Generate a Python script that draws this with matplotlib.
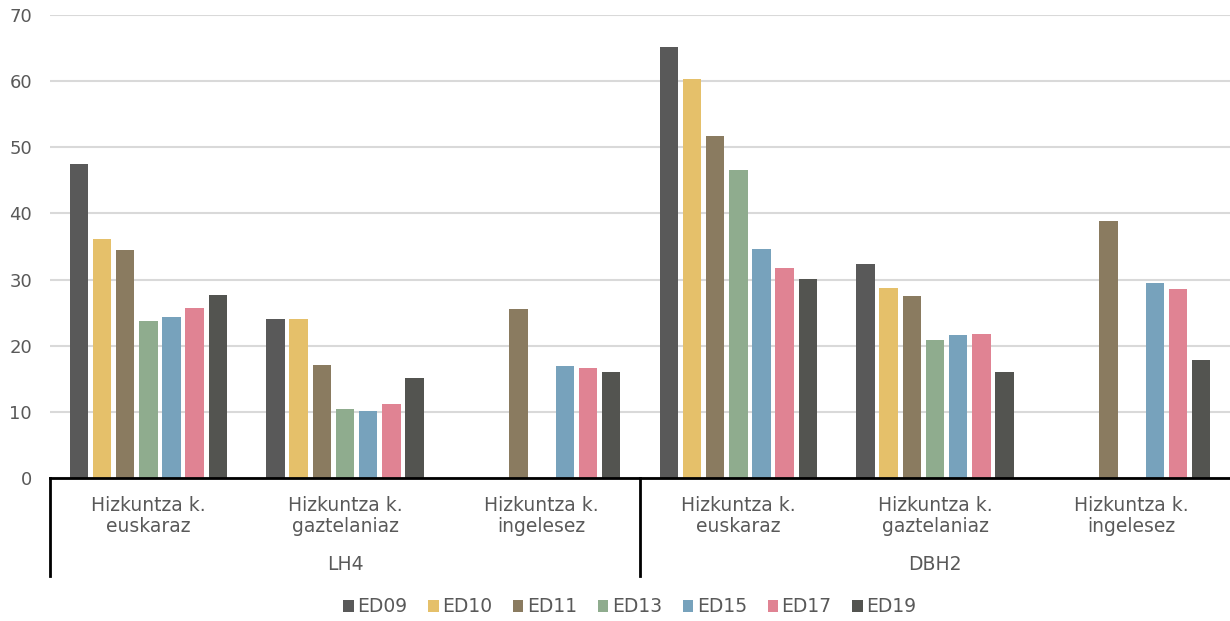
import numpy as np
import matplotlib
matplotlib.use("Agg")
import matplotlib.pyplot as plt
import matplotlib.transforms as mtransforms

categories = ["Hizkuntza k.\neuskaraz", "Hizkuntza k.\ngaztelaniaz", "Hizkuntza k.\ningelesez",
              "Hizkuntza k.\neuskaraz", "Hizkuntza k.\ngaztelaniaz", "Hizkuntza k.\ningelesez"]
groups = ["LH4", "DBH2"]
series = ["ED09", "ED10", "ED11", "ED13", "ED15", "ED17", "ED19"]
nan = np.nan
ed09 = [47.5, 24.0, nan, 65.2, 32.3, nan]
ed10 = [36.2, 24.0, nan, 60.3, 28.8, nan]
ed11 = [34.5, 17.1, 25.5, 51.7, 27.5, 38.8]
ed13 = [23.7, 10.4, nan, 46.5, 20.9, nan]
ed15 = [24.4, 10.1, 17.0, 34.6, 21.6, 29.5]
ed17 = [25.7, 11.2, 16.6, 31.7, 21.7, 28.5]
ed19 = [27.6, 15.1, 16.1, 30.1, 16.1, 17.9]
values = [ed09, ed10, ed11, ed13, ed15, ed17, ed19]
colors = ["#595959", "#E5C06A", "#8A7B60", "#8FAC8E", "#77A2BC", "#E08393", "#535450"]

txt = "#595959"
plt.rcParams["font.family"] = ["DejaVu Sans"]

fig = plt.figure(figsize=(12.3, 6.21), dpi=100)
ax = fig.add_axes([50 / 1230, 1 - 478 / 621, 1 - 50 / 1230, 463 / 621])

x = np.arange(len(categories)) + 0.5
step = 0.1178
width = 0.0934
for i, (name, vals, c) in enumerate(zip(series, values, colors)):
    ax.bar(x + (i - 3) * step, vals, width=width, color=c, label=name, zorder=3)

ax.set_xlim(0, 6)
ax.set_ylim(0, 70)
ax.set_yticks(range(0, 71, 10))
ax.yaxis.grid(True, color="#D9D9D9", linewidth=1.5, zorder=0)
ax.set_xticks([])
for s in ["top", "right", "left"]:
    ax.spines[s].set_visible(False)
ax.spines["bottom"].set_linewidth(2)
ax.spines["bottom"].set_color("black")
ax.spines["bottom"].set_zorder(5)
ax.tick_params(axis="y", length=0, labelsize=13, labelcolor=txt, pad=13)

trans = mtransforms.blended_transform_factory(ax.transData, ax.transAxes)
px = 1 / 463
for xi, lab in zip(x, categories):
    ax.text(xi, -38 * px, lab, transform=trans, ha="center", va="center",
            fontsize=13.5, color=txt, linespacing=1.15)
for gi, g in enumerate(groups):
    ax.text(gi * 3 + 1.5, -87 * px, g, transform=trans, ha="center", va="center",
            fontsize=13.5, color=txt)
for xv in [0, 3]:
    ax.plot([xv, xv], [0, -98 * px], transform=trans, color="black", lw=2,
            clip_on=False)

fig.legend(loc="center", bbox_to_anchor=(630 / 1230, 1 - 607 / 621), ncol=7,
           frameon=False, fontsize=13.5, handlelength=0.55, handleheight=0.55,
           handletextpad=0.2, columnspacing=1.1, labelcolor=txt)

fig.savefig("out.png", dpi=100)
